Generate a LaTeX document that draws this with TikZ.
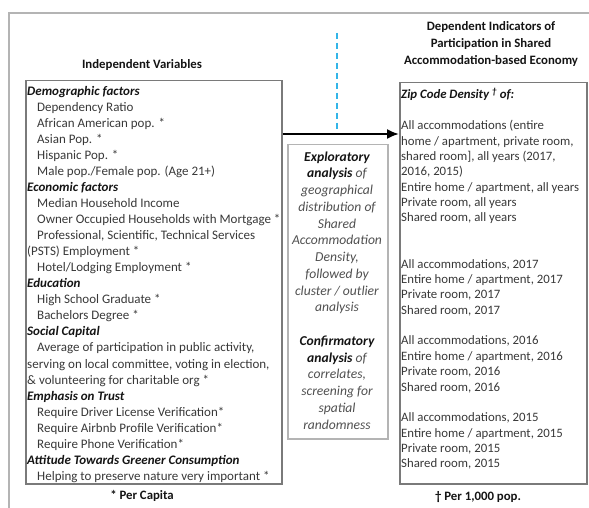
\documentclass[tikz,border=0pt]{standalone}
\usepackage{fontspec}
\setmainfont{Carlito}
\usetikzlibrary{arrows.meta}
\definecolor{framegray}{HTML}{B4B4B4}
\definecolor{boxgray}{HTML}{7A7A7A}
\definecolor{itemgray}{HTML}{383838}
\definecolor{midgray}{HTML}{505050}
\definecolor{headblack}{HTML}{141414}
\definecolor{dashblue}{HTML}{33B5E8}
\newcommand{\hdx}[1]{{\color{headblack}\bfseries\itshape #1}}
\newcommand{\indx}{\hspace*{10pt}}
\tikzset{
  panel/.style={draw=boxgray, line width=1.5pt, inner sep=0pt, anchor=north west},
  paneltext/.style={anchor=north west, inner sep=0pt, align=left, text=itemgray},
  title/.style={font=\fontsize{12.8}{17}\selectfont\bfseries, text=headblack, align=center, inner sep=0pt},
}
\begin{document}
\begin{tikzpicture}[x=1pt,y=-1pt]
\useasboundingbox (0,0) rectangle (589,508);
% outer frame
\draw[framegray, line width=1.5pt] (9,508) -- (9,13) -- (589,13);
% boxes
\node[panel, minimum width=256pt, minimum height=403pt] (lbox) at (25,80) {};
\node[panel, minimum width=187pt, minimum height=401pt] (rbox) at (399,82) {};
\node[panel, minimum width=100pt, minimum height=294pt, draw=framegray] (mbox) at (287,144) {};
% titles
\node[title] (ltitle) at (142,65) {Independent Variables};
\node[title] (rtitle) at (491,44) {Dependent Indicators of\\Participation in Shared\\Accommodation-based Economy};
\node[title] (lnote) at (142,496) {* Per Capita};
\node[title] (rnote) at (478,497) {† Per 1,000 pop.};
% left text
\node[paneltext, font=\fontsize{13}{16.04}\selectfont] (ltext) at (27,86) {%
\hdx{Demographic factors}\\
\indx Dependency Ratio\\
\indx African American pop. *\\
\indx Asian Pop. *\\
\indx Hispanic Pop. *\\
\indx Male pop./Female pop. (Age 21+)\\
\hdx{Economic factors}\\
\indx Median Household Income\\
\indx Owner Occupied Households with Mortgage *\\
\indx Professional, Scientific, Technical Services\\
(PSTS) Employment *\\
\indx Hotel/Lodging Employment *\\
\hdx{Education}\\
\indx High School Graduate *\\
\indx Bachelors Degree *\\
\hdx{Social Capital}\\
\indx Average of participation in public activity,\\
serving on local committee, voting in election,\\
\& volunteering for charitable org *\\
\hdx{Emphasis on Trust}\\
\indx Require Driver License Verification*\\
\indx Require Airbnb Profile Verification*\\
\indx Require Phone Verification*\\
\hdx{Attitude Towards Greener Consumption}\\
\indx Helping to preserve nature very important *};
% right text
\node[paneltext, font=\fontsize{12.8}{15.375}\selectfont] (rtext) at (401,88) {%
\hdx{Zip Code Density \textsuperscript{†}\ of:}\\[15.375pt]
All accommodations (entire\\
home / apartment, private room,\\
shared room], all years (2017,\\
2016, 2015)\\
Entire home / apartment, all years\\
Private room, all years\\
Shared room, all years\\[30.75pt]
All accommodations, 2017\\
Entire home / apartment, 2017\\
Private room, 2017\\
Shared room, 2017\\[15.375pt]
All accommodations, 2016\\
Entire home / apartment, 2016\\
Private room, 2016\\
Shared room, 2016\\[15.375pt]
All accommodations, 2015\\
Entire home / apartment, 2015\\
Private room, 2015\\
Shared room, 2015};
% middle text
\node[anchor=north, inner sep=0pt, align=center, text=midgray, font=\fontsize{13.6}{16.75}\selectfont\itshape] (mtext) at (337,151.5) {%
\hdx{Exploratory}\\
\hdx{analysis} of\\
geographical\\
distribution of\\
Shared\\
Accommodation\\
Density,\\
followed by\\
cluster / outlier\\
analysis\\[16.75pt]
\hdx{Confirmatory}\\
\hdx{analysis} of\\
correlates,\\
screening for\\
spatial\\
randomness};
% connectors
\coordinate (ay) at (0,134);
\draw[black, line width=2pt, -{Latex[length=12pt,width=10pt]}] (lbox.east |- ay) -- (rbox.west |- ay);
\coordinate (dtop) at (337,33);
\coordinate (dbot) at (337,129);
\draw[dashblue, line width=1.8pt, dash pattern=on 6pt off 4pt] (dtop) -- (dbot);
\end{tikzpicture}
\end{document}
